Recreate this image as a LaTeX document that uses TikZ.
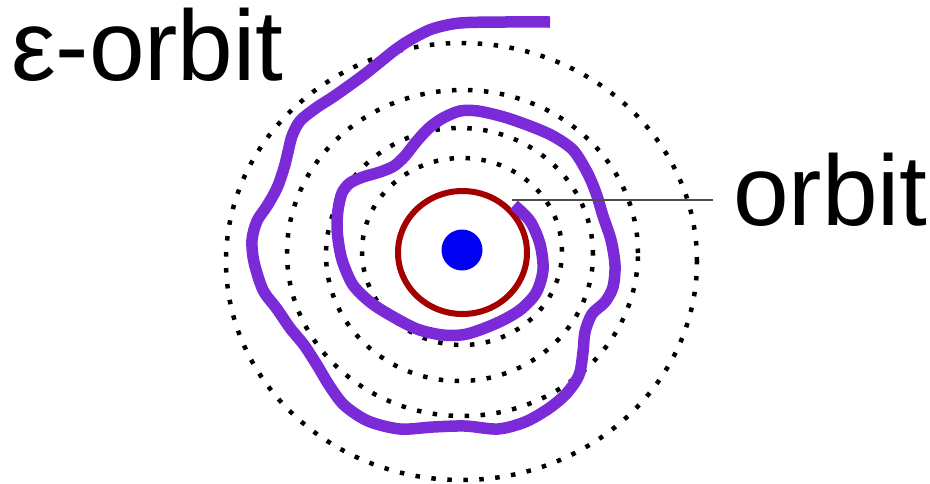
\documentclass[tikz,border=0pt]{standalone}
\usepackage{fontspec}
\setmainfont{Liberation Sans}
\definecolor{orbpurple}{RGB}{122,42,214}
\definecolor{orbred}{RGB}{165,0,0}
\definecolor{orbblue}{RGB}{0,0,245}
\begin{document}
\begin{tikzpicture}[x=1pt,y=-1pt,
  orbitring/.style={draw=black, line width=4.5pt, dash pattern=on 4.5pt off 11.5pt},
  spiral/.style={draw=orbpurple, line width=11.5pt, line cap=butt, line join=round},
  redring/.style={draw=orbred, line width=6pt},
  conn/.style={draw=black!70, line width=2pt},
  lbl/.style={font=\fontsize{100}{120}\selectfont, inner sep=0pt, text=black}]
\useasboundingbox (0,0) rectangle (930,483);
% dotted orbits
\draw[orbitring] (461.5,261.5) ellipse [x radius=235.5pt, y radius=218.5pt];
\draw[orbitring] (462.5,253) ellipse [x radius=175.5pt, y radius=163pt];
\draw[orbitring] (459.5,254.5) ellipse [x radius=133.5pt, y radius=126.5pt];
\draw[orbitring] (462,251.5) ellipse [x radius=100pt, y radius=93.5pt];
% red orbit
\draw[redring] (462.5,252.5) ellipse [x radius=64.5pt, y radius=61.5pt];
% central body
\fill[orbblue] (462,250) circle [radius=20.5pt];
% epsilon-orbit
\draw[spiral] plot[smooth, tension=0.5] coordinates {
(550,22) (505,22) (460,23) (432,29) (410,40) (395,50) (380,62) (365,74)
(350,85) (333,97) (316,108) (300,121) (292,136) (288,152) (284,168)
(277,188) (267,206) (257,221) (252,240) (254,262) (263,290) (277,309)
(290,328) (304,345) (317,365) (329,385) (344,405) (368,421) (400,429)
(433,427) (465,426) (498,429) (525,422) (548,409) (566,394) (579,375)
(583,352) (585,332) (592,314) (605,302) (613,287) (615,265) (611,240)
(603,216) (596,193) (587,172) (573,150) (553,136) (530,126) (504,117)
(478,111) (460,111) (443,118) (429,128) (416,142) (405,156) (394,166)
(380,172) (363,177) (350,183) (342,193) (338,210) (337,228) (339,246)
(343,263) (353,285) (370,302) (390,315) (417,329) (443,335) (467,334)
(497,323) (520,310) (536,293) (543,270) (540,244) (530,221) (514,205)};
% labels
\node[lbl, anchor=base west] (epslbl) at (11,80) {ε-orbit};
\node[lbl, anchor=base west] (orbitlbl) at (733,225) {orbit};
\coordinate (redpt) at (512,200);
\draw[conn] (redpt) -- ([xshift=-20pt]orbitlbl.base west |- redpt);
\end{tikzpicture}
\end{document}
